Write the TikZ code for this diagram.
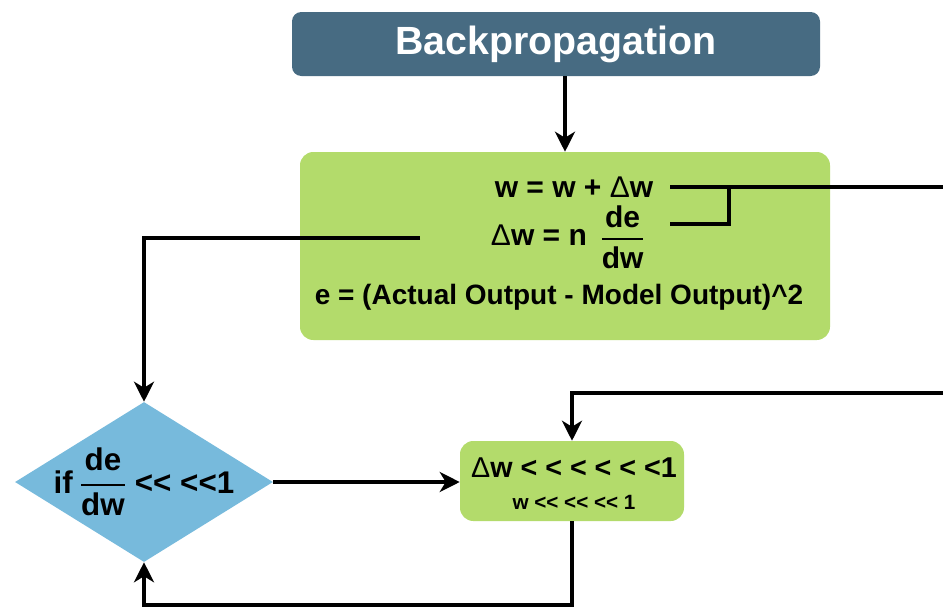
\documentclass[tikz,border=0pt]{standalone}
\usepackage{amsmath}
\usepackage{fontspec}
\setmainfont{Liberation Sans}[Ligatures=TeXOff]
\usetikzlibrary{arrows.meta,shapes.geometric}
\definecolor{titlecol}{HTML}{476B82}
\definecolor{greencol}{HTML}{B3DB6B}
\definecolor{bluecol}{HTML}{77BADC}
\newcommand{\dfr}{\ensuremath{\genfrac{}{}{1.6pt}{0}{\hbox{de}}{\hbox{dw}}}}
\newcommand{\dlt}{{\mdseries Δ}}
\begin{document}
\begin{tikzpicture}[x=0.75pt,y=-0.75pt,
  conn/.style={line width=2.6pt},
  arr/.style={conn, -{Stealth[length=15pt,width=15pt,inset=4.5pt]}},
  tbox/.style={rounded corners=7pt, fill=titlecol, text=white, font=\fontsize{29.5}{32}\selectfont\bfseries},
  gbox/.style={rounded corners=10pt, fill=greencol},
  txt/.style={font=\fontsize{21}{24}\selectfont\bfseries, inner sep=0pt}]
\useasboundingbox (0,0) rectangle (943,608);

\node[tbox, minimum width=396pt, minimum height=48pt] (title) at (556,44) {Backpropagation};
\node[gbox, minimum width=397.5pt, minimum height=141pt] (main) at (565,246) {};
\node[txt, font=\fontsize{22.5}{24}\selectfont\bfseries] (l1) at (574,187) {w = w + \dlt w};
\node[txt, font=\fontsize{22.5}{24}\selectfont\bfseries] (l2) at (568,237) {\dlt w = n\hspace{10pt}\dfr};
\node[txt] (l3) at (559,297) {e = (Actual Output - Model Output)\textasciicircum 2};

\node[diamond, fill=bluecol, minimum width=193.5pt, minimum height=120pt, inner sep=0pt] (dec) at (144,482) {};
\node[txt, font=\fontsize{23.5}{26}\selectfont\bfseries] (dtext) at (144,482) {if\hspace{5pt}\dfr\ << <<1};

\node[gbox, minimum width=168pt, minimum height=60pt] (small) at (572,481) {};
\node[txt, font=\fontsize{21.5}{24}\selectfont\bfseries] (s1) at (574,468) {\dlt w < < < < < <1};
\node[txt, font=\fontsize{15.5}{18}\selectfont\bfseries] (s2) at (574,502) {w << << << 1};

\coordinate (a1) at (670,187);
\coordinate (r1) at (943,187);
\coordinate (a2) at (670,224);
\coordinate (j) at (729,187);
\coordinate (lstart) at (420,238);
\coordinate (r2) at (943,393);
\coordinate (bot) at (0,605);

\draw[arr] (main.north |- title.south) -- (main.north);
\draw[conn] (a1) -- (r1);
\draw[conn] (a2) -| (j);
\draw[arr] (lstart) -| (dec.north);
\draw[arr] (dec.east) -- (dec.east -| small.west);
\draw[arr] (r2) -| (small.north);
\draw[arr] (small.south) -- (small.south |- bot) -| (dec.south);
\end{tikzpicture}
\end{document}
